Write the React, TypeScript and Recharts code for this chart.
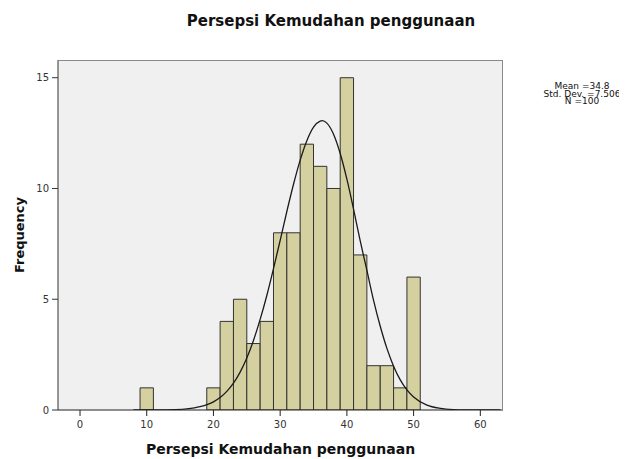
import React from 'react';
import { ComposedChart, Bar, Line, XAxis, YAxis, CartesianGrid } from 'recharts';

const title = 'Persepsi Kemudahan penggunaan';
const xLabel = 'Persepsi Kemudahan penggunaan';
const yLabel = 'Frequency';
const statsLines = ['Mean =34.8', 'Std. Dev. =7.506', 'N =100'];

const binCenters = [10, 20, 22, 24, 26, 28, 30, 32, 34, 36, 38, 40, 42, 44, 46, 48, 50];
const binCounts = [1, 1, 4, 5, 3, 4, 8, 8, 12, 11, 10, 15, 7, 2, 2, 1, 6];
const binWidth = 2;

const curveX = [8, 12, 14, 16, 18, 20, 21, 22, 23, 24, 25, 26, 27, 28, 29, 30, 31, 32, 33, 34, 35, 36, 36.3, 37, 38, 39, 40, 41, 42, 43, 44, 45, 46, 47, 48, 49, 50, 52, 54, 56, 58, 60, 63];
const curveY = [0, 0.005, 0.016, 0.05, 0.15, 0.37, 0.56, 0.84, 1.21, 1.71, 2.35, 3.14, 4.09, 5.17, 6.38, 7.66, 8.96, 10.19, 11.28, 12.16, 12.77, 13.04, 13.06, 12.95, 12.45, 11.58, 10.42, 9.07, 7.63, 6.3, 4.95, 3.78, 2.78, 1.98, 1.36, 0.91, 0.59, 0.22, 0.073, 0.02, 0.005, 0.001, 0];

const xTicks = [0, 10, 20, 30, 40, 50, 60];
const yTicks = [0, 5, 10, 15];
const xDomain: [number, number] = [-3.3, 63.4];
const yDomain: [number, number] = [0, 15.8];

const barData = binCenters.map((x, i) => ({ x, count: binCounts[i] }));
const curveData = curveX.map((x, i) => ({ x, density: curveY[i] }));

const W = 611;
const H = 443;
const BOX_H = 451;
const M = { top: 52, right: 116, bottom: 11, left: 20 };
const Y_AXIS_W = 30;
const X_AXIS_H = 30;
const plotLeft = M.left + Y_AXIS_W;
const plotTop = M.top;
const plotW = W - M.right - plotLeft;
const plotH = H - M.bottom - X_AXIS_H - plotTop;
// slightly under the band width so Recharts keeps the given size (bars touch)
const barSize = (binWidth * plotW) / (xDomain[1] - xDomain[0]) - 0.01;

const font = '"DejaVu Sans", Verdana, sans-serif';
const tickStyle = { fontSize: 10, fill: '#333', fontFamily: font };

export default function App() {
  return (
    <div style={{ position: 'relative', width: W, height: BOX_H, fontFamily: font, background: '#fff' }}>
      <style>{'html{overflow:hidden;}'}</style>
      <ComposedChart width={W} height={H} data={barData} margin={M} barCategoryGap={0} barGap={0}>
        <CartesianGrid fill="#F0F0F0" horizontal={false} vertical={false} />
        <XAxis
          dataKey="x"
          type="number"
          domain={xDomain}
          ticks={xTicks}
          allowDataOverflow
          height={X_AXIS_H}
          tickSize={6}
          tickMargin={5}
          axisLine={{ stroke: '#222', strokeWidth: 1 }}
          tickLine={{ stroke: '#222' }}
          tick={tickStyle}
        />
        <XAxis xAxisId="curve" dataKey="x" type="number" domain={xDomain} allowDataOverflow hide />
        <YAxis
          type="number"
          domain={yDomain}
          ticks={yTicks}
          allowDataOverflow
          width={Y_AXIS_W}
          tickSize={6}
          tickMargin={3}
          axisLine={{ stroke: '#333', strokeWidth: 1 }}
          tickLine={{ stroke: '#333' }}
          tick={tickStyle}
        />
        <Bar
          dataKey="count"
          fill="#D5D0A0"
          stroke="#333"
          strokeWidth={1}
          barSize={barSize}
          isAnimationActive={false}
        />
        <Line
          xAxisId="curve"
          data={curveData}
          dataKey="density"
          type="monotone"
          stroke="#1a1a1a"
          strokeWidth={1.3}
          dot={false}
          activeDot={false}
          isAnimationActive={false}
        />
      </ComposedChart>
      <div
        style={{
          position: 'absolute', left: plotLeft, top: plotTop, width: plotW, height: plotH,
          borderTop: '1px solid #8a8a8a', borderRight: '1px solid #8a8a8a', boxSizing: 'border-box', pointerEvents: 'none',
        }}
      />
      <div style={{ position: 'absolute', left: 323 - 200, top: 4, width: 400, textAlign: 'center', fontSize: 15, fontWeight: 'bold', color: '#111', whiteSpace: 'nowrap' }}>
        {title}
      </div>
      <div style={{ position: 'absolute', left: plotLeft, top: 433, width: plotW, textAlign: 'center', fontSize: 14, fontWeight: 'bold', color: '#111', whiteSpace: 'nowrap' }}>
        {xLabel}
      </div>
      <div
        style={{
          position: 'absolute', left: 11, top: plotTop + plotH / 2, fontSize: 13, fontWeight: 'bold', color: '#111',
          transform: 'translate(-50%, -50%) rotate(-90deg)', whiteSpace: 'nowrap',
        }}
      >
        {yLabel}
      </div>
      <div style={{ position: 'absolute', left: 574 - 45, top: 75, width: 90, textAlign: 'center', fontSize: 9, lineHeight: '7.7px', color: '#111' }}>
        {statsLines.map((s) => (
          <div key={s} style={{ whiteSpace: 'nowrap' }}>{s}</div>
        ))}
      </div>
    </div>
  );
}
